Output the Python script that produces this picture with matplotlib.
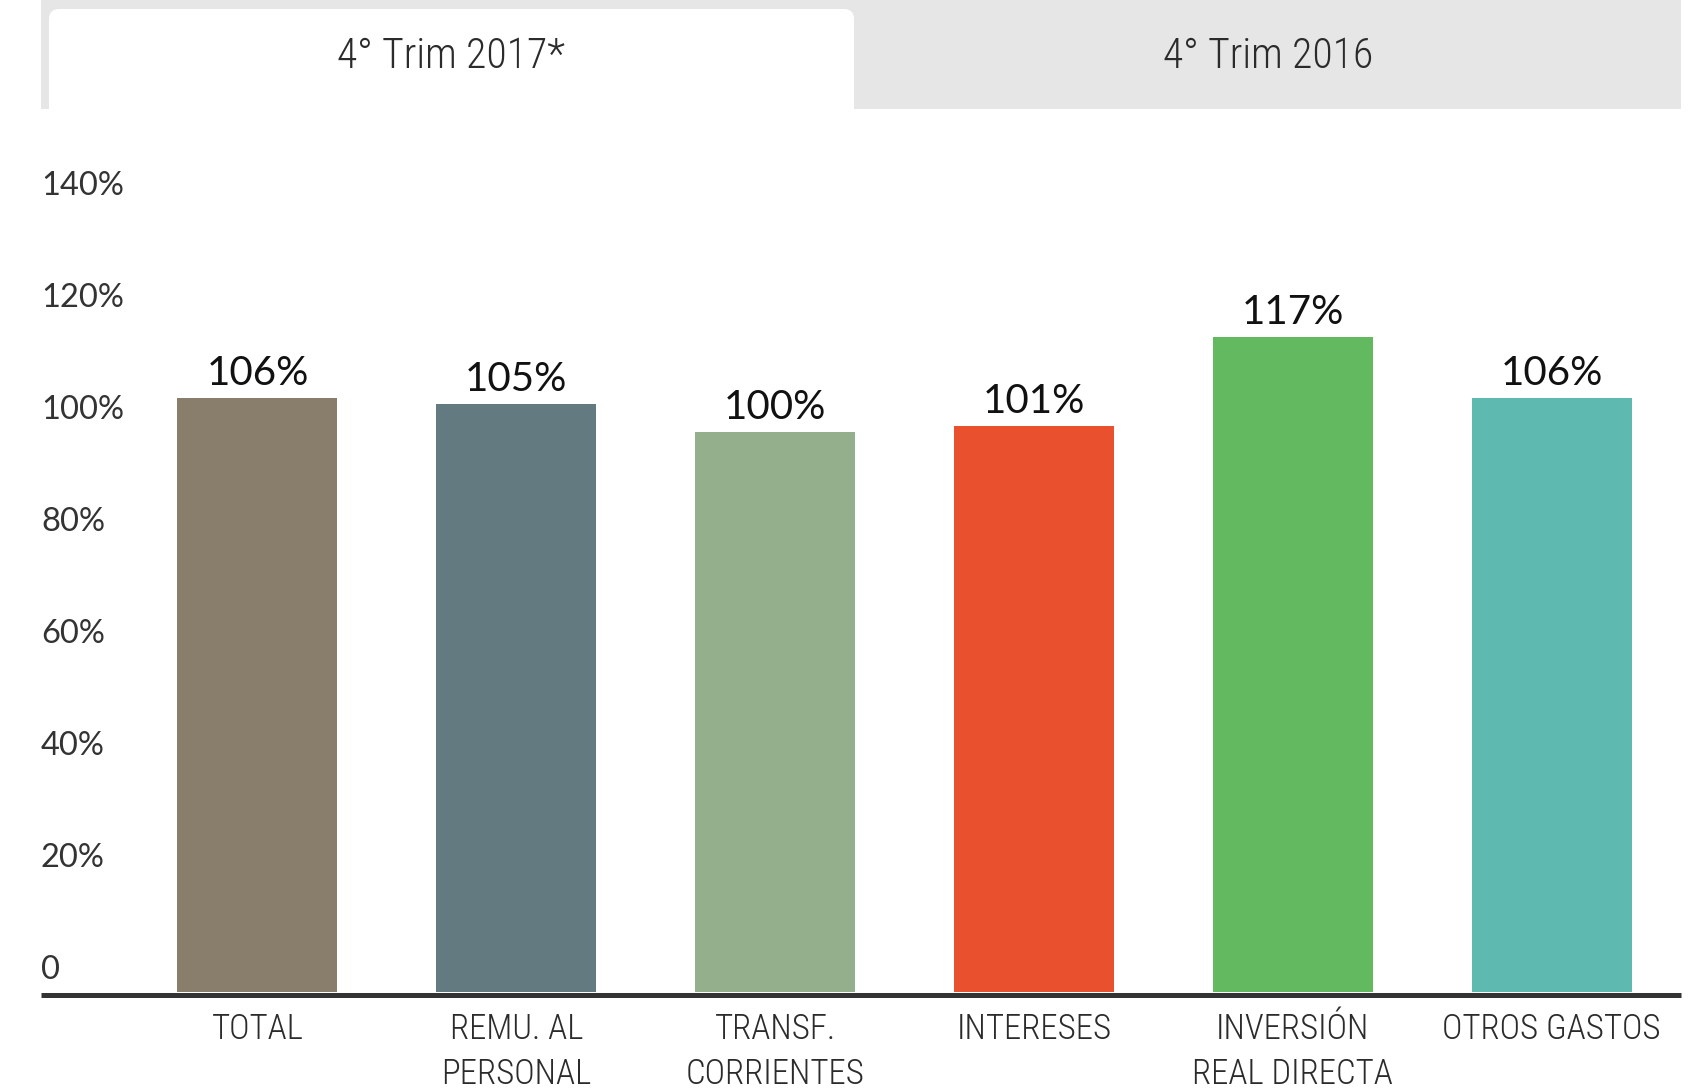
import matplotlib.pyplot as plt
from matplotlib.patches import FancyBboxPatch, Rectangle

categories = ['TOTAL', 'REMU. AL\nPERSONAL', 'TRANSF.\nCORRIENTES', 'INTERESES',
              'INVERSIÓN\nREAL DIRECTA', 'OTROS GASTOS']
values = [106, 105, 100, 101, 117, 106]
colors = ['#897d6c', '#637b80', '#94af8b', '#e8502e', '#63b95f', '#5eb9b1']
y_ticks = [0, 20, 40, 60, 80, 100, 120, 140]
y_tick_labels = ['0', '20%', '40%', '60%', '80%', '100%', '120%', '140%']
tabs = ['4° Trim 2017*', '4° Trim 2016']

W, H = 1705, 1088
fig = plt.figure(figsize=(W / 100, H / 100), dpi=100)

num_font = ['Lato', 'DejaVu Sans']
narrow_font = ['Liberation Sans Narrow', 'Roboto Condensed', 'Open Sans Condensed', 'Lato', 'DejaVu Sans']

# tab strip on top
bg = fig.add_axes([0, 0, 1, 1])
bg.set_xlim(0, W)
bg.set_ylim(H, 0)
bg.axis('off')
bg.add_patch(FancyBboxPatch((41, -30), 1640, 200, boxstyle='round,pad=0,rounding_size=14',
                            fc='#e6e6e6', ec='none'))
bg.add_patch(FancyBboxPatch((49, 9), 805, 160, boxstyle='round,pad=0,rounding_size=10',
                            fc='white', ec='none'))
bg.add_patch(Rectangle((0, 109), W, 100, fc='white', ec='none'))
bg.text(451, 56, tabs[0], ha='center', va='center', fontsize=30, color='#2b2b2b',
        family=narrow_font, weight='light')
bg.text(1268, 56, tabs[1], ha='center', va='center', fontsize=30, color='#2b2b2b',
        family=narrow_font, weight='light')

# bar chart
base_y = 992
px_per_pct = 5.6
top_pct = 145
ax = fig.add_axes([41 / W, (H - base_y) / H, 1640 / W, top_pct * px_per_pct / H])
for s in ['top', 'right', 'left']:
    ax.spines[s].set_visible(False)
ax.spines['bottom'].set_position(('outward', 1.8))
ax.spines['bottom'].set_color('#333333')
ax.spines['bottom'].set_linewidth(3.6)
ax.spines['bottom'].set_capstyle('butt')

x = list(range(len(categories)))
ax.bar(x, values, width=0.618, color=colors, zorder=3)
ax.set_xlim(-0.5 - 87 / 258.7, len(categories) - 0.5)
ax.set_ylim(0, top_pct)

for xi, v in zip(x, values):
    ax.annotate(f'{v}%', xy=(xi, v), xytext=(0, 4.5), textcoords='offset points',
                ha='center', va='bottom', fontsize=29, color='#111111', family=num_font)

for t, lab in zip(y_ticks, y_tick_labels):
    ax.annotate(lab, xy=(0, t), xycoords=('axes fraction', 'data'), xytext=(0, 15.5),
                textcoords='offset points', ha='left', va='center', fontsize=23.5,
                color='#333333', family=num_font)

ax.set_yticks([])
ax.set_xticks(x)
ax.set_xticklabels(categories, fontsize=25, color='#2b2b2b', family=narrow_font,
                   weight='light', linespacing=1.45)
ax.tick_params(axis='x', length=0, pad=13)

fig.savefig('out.png', dpi=100)
